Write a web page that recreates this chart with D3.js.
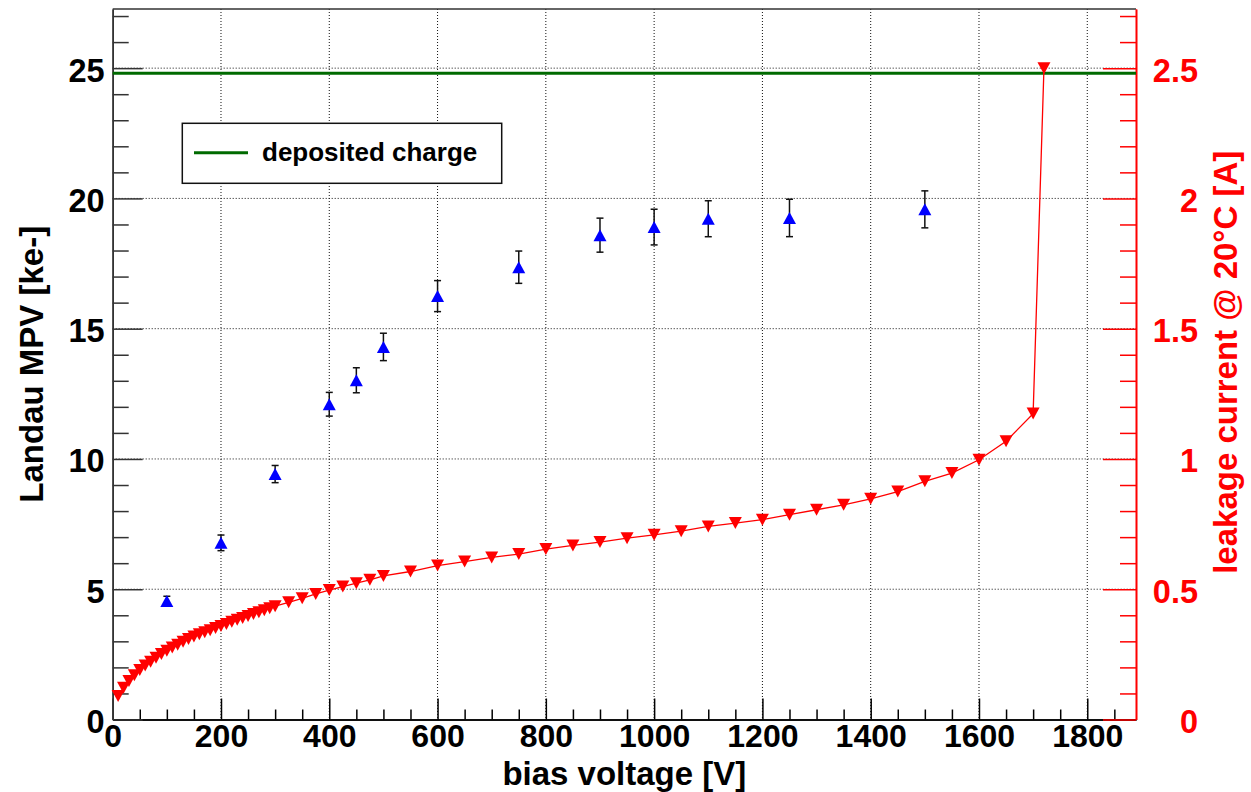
<!DOCTYPE html>
<html>
<head>
<meta charset="utf-8">
<script src="https://cdn.jsdelivr.net/npm/d3@7"></script>
<style>
  html, body { margin: 0; padding: 0; background: #fff; }
  svg { display: block; }
  text { font-family: "Liberation Sans", Arial, Helvetica, sans-serif; font-weight: bold; }
</style>
</head>
<body>
<svg id="chart" width="1251" height="792"></svg>
<script>
// Landau most probable value of the collected charge vs. bias voltage
const biasMPV = [100, 200, 300, 400, 450, 500, 600, 750, 900, 1000, 1100, 1250, 1500];
const mpv     = [4.55, 6.78, 9.42, 12.10, 13.02, 14.30, 16.25, 17.36, 18.59, 18.90, 19.22, 19.25, 19.58];
const mpvErr  = [0.18, 0.30, 0.33, 0.455, 0.48, 0.526, 0.595, 0.62, 0.653, 0.685, 0.69, 0.718, 0.71];

// Leakage current (normalised to 20 °C) vs. bias voltage
const biasIV = [10, 20, 30, 40, 50, 60, 70, 80, 90, 100, 110, 120, 130, 140, 150, 160, 170, 180, 190, 200,
                210, 220, 230, 240, 250, 260, 270, 280, 290, 300, 325, 350, 375, 400, 425, 450, 475, 500,
                550, 600, 650, 700, 750, 800, 850, 900, 950, 1000, 1050, 1100, 1150, 1200, 1250, 1300,
                1350, 1400, 1450, 1500, 1550, 1600, 1650, 1700, 1720];
const leakage = [0.090, 0.122, 0.148, 0.170, 0.190, 0.207, 0.222, 0.237, 0.251, 0.264, 0.276, 0.287, 0.298, 0.309,
                 0.319, 0.327, 0.335, 0.343, 0.351, 0.359, 0.367, 0.375, 0.383, 0.390, 0.397, 0.405, 0.412, 0.419,
                 0.427, 0.435, 0.450, 0.465, 0.482, 0.497, 0.510, 0.523, 0.536, 0.551, 0.568, 0.591, 0.606, 0.622,
                 0.635, 0.654, 0.668, 0.681, 0.696, 0.709, 0.723, 0.741, 0.754, 0.767, 0.786, 0.805, 0.824, 0.847,
                 0.875, 0.914, 0.946, 0.997, 1.068, 1.174, 2.50];

// Expected deposited charge (ke-)
const depositedCharge = 24.8;

const xMajorTicks = [0, 200, 400, 600, 800, 1000, 1200, 1400, 1600, 1800];
const yLeftTicks  = [0, 5, 10, 15, 20, 25];
const yRightTicks = [0, 0.5, 1, 1.5, 2, 2.5];
const yRightLabels = ["0", "0.5", "1", "1.5", "2", "2.5"];

const svg = d3.select("#chart");
const W = 1251, H = 792;
const plot = { left: 112.7, right: 1136, top: 9, bottom: 719.5 };
const tickFont = 32;

const x  = d3.scaleLinear().domain([0, 1890]).range([plot.left, plot.right]);
const yL = d3.scaleLinear().domain([0, 27.27]).range([plot.bottom, plot.top]);
const yR = d3.scaleLinear().domain([0, 2.727]).range([plot.bottom, plot.top]);

svg.append("rect").attr("width", W).attr("height", H).attr("fill", "#fff");

// dotted grid at major ticks
const grid = svg.append("g").attr("stroke", "#111").attr("stroke-width", 1).attr("stroke-dasharray", "1 2");
grid.selectAll("line.gx").data(xMajorTicks.filter(d => d > 0)).join("line")
  .attr("x1", d => x(d)).attr("x2", d => x(d))
  .attr("y1", plot.top).attr("y2", plot.bottom);
grid.selectAll("line.gy").data(yLeftTicks.filter(d => d > 0)).join("line")
  .attr("x1", plot.left).attr("x2", plot.right)
  .attr("y1", d => yL(d)).attr("y2", d => yL(d));

// top frame
svg.append("line")
  .attr("x1", plot.left).attr("x2", plot.right)
  .attr("y1", plot.top).attr("y2", plot.top)
  .attr("stroke", "#333").attr("stroke-width", 1.5);

function styleAxis(g, color) {
  g.selectAll("path.domain").attr("stroke", color).attr("stroke-width", 1.6);
  g.selectAll(".tick line").attr("stroke", color).attr("stroke-width", 1.5);
  g.selectAll("text").attr("fill", color).attr("font-size", tickFont).attr("font-family", null);
}

// bottom axis: minor ticks every 50 V, major every 200 V
const xMinor = d3.range(0, 1890, 50).filter(d => d % 200 !== 0);
svg.append("g").attr("transform", `translate(0,${plot.bottom})`)
  .call(d3.axisBottom(x).tickValues(xMinor).tickSize(-10).tickSizeOuter(0).tickFormat(""))
  .call(g => styleAxis(g, "#000"));
svg.append("g").attr("transform", `translate(0,${plot.bottom})`)
  .call(d3.axisBottom(x).tickValues(xMajorTicks).tickSize(-21).tickSizeOuter(0).tickPadding(5).tickFormat(d3.format("d")))
  .call(g => styleAxis(g, "#000"));

// left axis
const yLMinor = d3.range(0, 28, 1).filter(d => d % 5 !== 0);
svg.append("g").attr("transform", `translate(${plot.left},0)`)
  .call(d3.axisLeft(yL).tickValues(yLMinor).tickSize(-16).tickSizeOuter(0).tickFormat(""))
  .call(g => styleAxis(g, "#333"));
svg.append("g").attr("transform", `translate(${plot.left},0)`)
  .call(d3.axisLeft(yL).tickValues(yLeftTicks).tickSize(-30).tickSizeOuter(0).tickPadding(8).tickFormat(d3.format("d")))
  .call(g => styleAxis(g, "#333"))
  .call(g => g.selectAll("text").attr("fill", "#000").attr("font-size", 32.5).attr("dy", "0.4em"));

// right axis (red)
const red = "#ff0000";
const yRMinor = d3.range(0, 28, 1).map(d => d / 10).filter((d, i) => i % 5 !== 0);
svg.append("g").attr("transform", `translate(${plot.right},0)`)
  .call(d3.axisRight(yR).tickValues(yRMinor).tickSize(-16).tickSizeOuter(0).tickFormat(""))
  .call(g => styleAxis(g, red));
svg.append("g").attr("transform", `translate(${plot.right},0)`)
  .call(d3.axisRight(yR).tickValues(yRightTicks).tickSize(-33).tickSizeOuter(0)
        .tickFormat((d, i) => yRightLabels[i]))
  .call(g => styleAxis(g, red))
  .call(g => g.selectAll("text").attr("text-anchor", "end").attr("x", 62).attr("font-size", 32.5).attr("dy", "0.4em"));

// deposited-charge reference line
svg.append("line")
  .attr("x1", plot.left).attr("x2", plot.right)
  .attr("y1", yL(depositedCharge)).attr("y2", yL(depositedCharge))
  .attr("stroke", "#006a00").attr("stroke-width", 3);

// leakage current curve
const ivData = biasIV.map((v, i) => ({ v, i: leakage[i] }));
svg.append("path").datum(ivData)
  .attr("fill", "none").attr("stroke", red).attr("stroke-width", 1.3)
  .attr("d", d3.line().x(d => x(d.v)).y(d => yR(d.i)));
const triDown = (cx, cy) => `M${cx - 6.5},${cy - 6}L${cx + 6.5},${cy - 6}L${cx},${cy + 6}Z`;
svg.append("g").selectAll("path").data(ivData).join("path")
  .attr("d", d => triDown(x(d.v), yR(d.i)))
  .attr("fill", red);

// MPV points with error bars
const mpvData = biasMPV.map((v, i) => ({ v, m: mpv[i], e: mpvErr[i] }));
const eb = svg.append("g").attr("stroke", "#111").attr("stroke-width", 1.5);
eb.selectAll("line.bar").data(mpvData).join("line")
  .attr("x1", d => x(d.v)).attr("x2", d => x(d.v))
  .attr("y1", d => yL(d.m - d.e)).attr("y2", d => yL(d.m + d.e));
eb.selectAll("line.capTop").data(mpvData).join("line").attr("class", "capTop")
  .attr("x1", d => x(d.v) - 3.5).attr("x2", d => x(d.v) + 3.5)
  .attr("y1", d => yL(d.m + d.e)).attr("y2", d => yL(d.m + d.e));
eb.selectAll("line.capBot").data(mpvData).join("line").attr("class", "capBot")
  .attr("x1", d => x(d.v) - 3.5).attr("x2", d => x(d.v) + 3.5)
  .attr("y1", d => yL(d.m - d.e)).attr("y2", d => yL(d.m - d.e));
const triUp = (cx, cy) => `M${cx - 6.5},${cy + 6}L${cx + 6.5},${cy + 6}L${cx},${cy - 6}Z`;
svg.append("g").selectAll("path").data(mpvData).join("path")
  .attr("d", d => triUp(x(d.v), yL(d.m)))
  .attr("fill", "#0000ff");

// legend
const lg = svg.append("g");
lg.append("rect").attr("x", 182.3).attr("y", 123.3).attr("width", 319.4).attr("height", 60)
  .attr("fill", "#fff").attr("stroke", "#111").attr("stroke-width", 1.5);
lg.append("line").attr("x1", 194).attr("x2", 248).attr("y1", 152.7).attr("y2", 152.7)
  .attr("stroke", "#006a00").attr("stroke-width", 3);
lg.append("text").attr("x", 262).attr("y", 160.5).attr("font-size", 26).attr("fill", "#000")
  .text("deposited charge");

// axis titles
svg.append("text").attr("x", (plot.left + plot.right) / 2).attr("y", 784.5)
  .attr("text-anchor", "middle").attr("font-size", 33).attr("fill", "#000")
  .text("bias voltage [V]");
svg.append("text").attr("transform", `translate(43,${(plot.top + plot.bottom) / 2}) rotate(-90)`)
  .attr("text-anchor", "middle").attr("font-size", 33).attr("fill", "#000")
  .text("Landau MPV [ke-]");
svg.append("text").attr("transform", `translate(1237,${(plot.top + plot.bottom) / 2 - 2}) rotate(-90)`)
  .attr("text-anchor", "middle").attr("font-size", 33).attr("fill", red)
  .text("leakage current @ 20°C [A]");
</script>
</body>
</html>
